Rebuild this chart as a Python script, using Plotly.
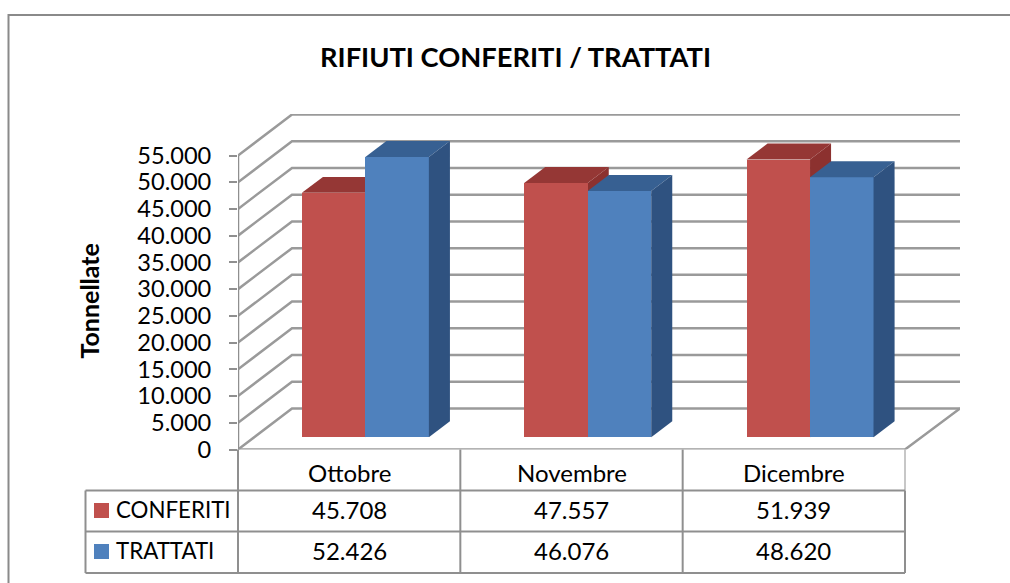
import plotly.graph_objects as go

# ---------- data ----------
categories = ["Ottobre", "Novembre", "Dicembre"]
conferiti = [45708, 47557, 51939]
trattati = [52426, 46076, 48620]
tick_vals = list(range(0, 55001, 5000))
series_names = ["CONFERITI", "TRATTATI"]
title_text = "RIFIUTI CONFERITI / TRATTATI"
y_title = "Tonnellate"

def it(v):
    return f"{v:,}".replace(",", ".")

# ---------- layout constants (px in the 1010x583 page) ----------
W, H = 1010, 583
X0, X1 = 238, 960      # plot frame left/right
Y_ZERO, Y_TOP = 449.5, 114
PX_PER_UNIT = (449.5 - 155.5) / 55000
CAT_W = (905 - 238) / 3
DEPTH_PX = (54, 41)
X_RANGE = (X1 - X0) / CAT_W
Y_RANGE = (Y_ZERO - Y_TOP) / PX_PER_UNIT
DX = DEPTH_PX[0] / CAT_W
DY = DEPTH_PX[1] / PX_PER_UNIT
BAR_W = 63.5 / CAT_W
F0, F1 = 0.30, 0.69    # depth position of the bar's front and back

GRID = "#9a9a9a"
TABLE = "#8f8f8f"
RED, RED_TOP, RED_SIDE = "#c0504d", "#953735", "#8c312f"
BLUE, BLUE_TOP, BLUE_SIDE = "#4f81bd", "#376092", "#2f5280"
FONT = "Lato"
TXT = "#000000"

def px(x):
    return x / W
def py(y):
    return 1 - y / H

def poly(points):
    return "M " + " L ".join(f"{a},{b}" for a, b in points) + " Z"

shapes = []
def data_line(pts, width=2.5, color=GRID, layer="below"):
    shapes.append(dict(type="path", xref="x", yref="y", layer=layer,
                       path="M " + " L ".join(f"{a},{b}" for a, b in pts),
                       line=dict(color=color, width=width)))

def paper_line(x0, y0, x1, y1, color=TABLE, width=2):
    shapes.append(dict(type="line", xref="paper", yref="paper", layer="below",
                       x0=px(x0), y0=py(y0), x1=px(x1), y1=py(y1),
                       line=dict(color=color, width=width)))

# outer frame (open at the right and bottom page edges)
shapes.append(dict(type="rect", xref="paper", yref="paper", layer="below",
                   x0=px(8.5), y0=py(15), x1=px(1100), y1=py(640),
                   line=dict(color="#8a8a8a", width=2), fillcolor="white"))

# walls: gridlines on the side wall and the back wall
for v in tick_vals:
    data_line([(0, v), (DX, v + DY), (X_RANGE, v + DY)])
# floor
data_line([(X_RANGE, DY), (3, 0), (0, 0)])
# vertical axis
data_line([(0, 0), (0, 55000)], color="#8f8f8f")

def faces(i_cat, slot, value, top, side, layer):
    """Top and side faces of a bar, worked out from its value."""
    x0 = i_cat + 0.5 + (slot - 1) * BAR_W + F0 * DX
    x1 = x0 + BAR_W
    base = F0 * DY
    d = (F1 - F0)
    ddx, ddy = d * DX, d * DY
    ytop = base + value
    shapes.append(dict(type="path", xref="x", yref="y", layer=layer,
                       path=poly([(x0, ytop), (x1, ytop), (x1 + ddx, ytop + ddy), (x0 + ddx, ytop + ddy)]),
                       fillcolor=top, line=dict(width=0)))
    shapes.append(dict(type="path", xref="x", yref="y", layer=layer,
                       path=poly([(x1, base), (x1 + ddx, base + ddy), (x1 + ddx, ytop + ddy), (x1, ytop)]),
                       fillcolor=side, line=dict(width=0)))

# the red faces sit below the bars, the blue faces above them
for i, v in enumerate(conferiti):
    faces(i, 0, v, RED_TOP, RED_SIDE, "below")
for i, v in enumerate(trattati):
    faces(i, 1, v, BLUE_TOP, BLUE_SIDE, "above")

# data table rules
X_COLS = [238 + CAT_W * k for k in range(4)]
Y_ROWS = [490.5, 531.5, 573]
paper_line(238, 449.5, 238, 573)
paper_line(X_COLS[1], 449.5, X_COLS[1], 573)
paper_line(X_COLS[2], 449.5, X_COLS[2], 573)
paper_line(X_COLS[3], 449.5, X_COLS[3], 490.5, color="#b5b5b5", width=1.5)
paper_line(X_COLS[3], 490.5, X_COLS[3], 573)
for r in Y_ROWS:
    paper_line(85.5, r, X_COLS[3], r)
paper_line(85.5, 490.5, 85.5, 573)

# legend swatches
SW_Y = [503, 544]
for y, c in zip(SW_Y, [RED, BLUE]):
    shapes.append(dict(type="rect", xref="paper", yref="paper", layer="below",
                       x0=px(94), x1=px(109), y0=py(y), y1=py(y + 15),
                       fillcolor=c, line=dict(width=0)))

ann = []
def text(x, y, s, size=24, anchor="center", bold=False, angle=0):
    ann.append(dict(xref="paper", yref="paper", x=px(x), y=py(y), text=f"<b>{s}</b>" if bold else s,
                    showarrow=False, xanchor=anchor, yanchor="middle", textangle=angle,
                    font=dict(family=FONT, size=size, color=TXT)))

text(515.5, 56.5, title_text, size=27.3, bold=True)
text(88.5, 301, y_title, size=25, bold=True, angle=-90)
row_y = [509, 550]
cat_y = 472
for k, c in enumerate(categories):
    cx = 238 + CAT_W * (k + 0.5)
    text(cx, cat_y, c)
    text(cx, row_y[0], it(conferiti[k]))
    text(cx, row_y[1], it(trattati[k]))
text(114, row_y[0], series_names[0], size=22.3, anchor="left")
text(114, row_y[1], series_names[1], size=22.3, anchor="left")

fig = go.Figure()
for slot, (name, vals, col) in enumerate([(series_names[0], conferiti, RED),
                                          (series_names[1], trattati, BLUE)]):
    fig.add_bar(name=name,
                x=[i + 0.5 + (slot - 0.5) * BAR_W + F0 * DX for i in range(3)],
                y=vals, base=[F0 * DY] * 3, width=BAR_W,
                marker=dict(color=col, line=dict(width=0)))

fig.update_layout(
    width=W, height=H, autosize=False,
    margin=dict(l=0, r=0, t=0, b=0, pad=0, autoexpand=False),
    paper_bgcolor="white", plot_bgcolor="rgba(0,0,0,0)",
    showlegend=False, barmode="overlay", bargap=0,
    shapes=shapes, annotations=ann,
    font=dict(family=FONT, color=TXT),
    xaxis=dict(domain=[X0 / W, X1 / W], range=[0, X_RANGE], showgrid=False, zeroline=False,
               showticklabels=False, ticks="", showline=False, fixedrange=True, automargin=False),
    yaxis=dict(domain=[1 - Y_ZERO / H, 1 - Y_TOP / H], range=[0, Y_RANGE], showgrid=False, zeroline=False,
               showline=False, tickmode="array", tickvals=tick_vals, ticktext=[it(v) for v in tick_vals],
               ticks="outside", ticklen=8, tickwidth=2, tickcolor="#8f8f8f", ticklabelstandoff=13,
               automargin=False,
               tickfont=dict(family=FONT, size=23.6, color=TXT), fixedrange=True),
)
fig.write_html("out.html", config={"displayModeBar": False},
               post_script="document.body.style.margin='0';document.body.style.overflow='hidden';")
